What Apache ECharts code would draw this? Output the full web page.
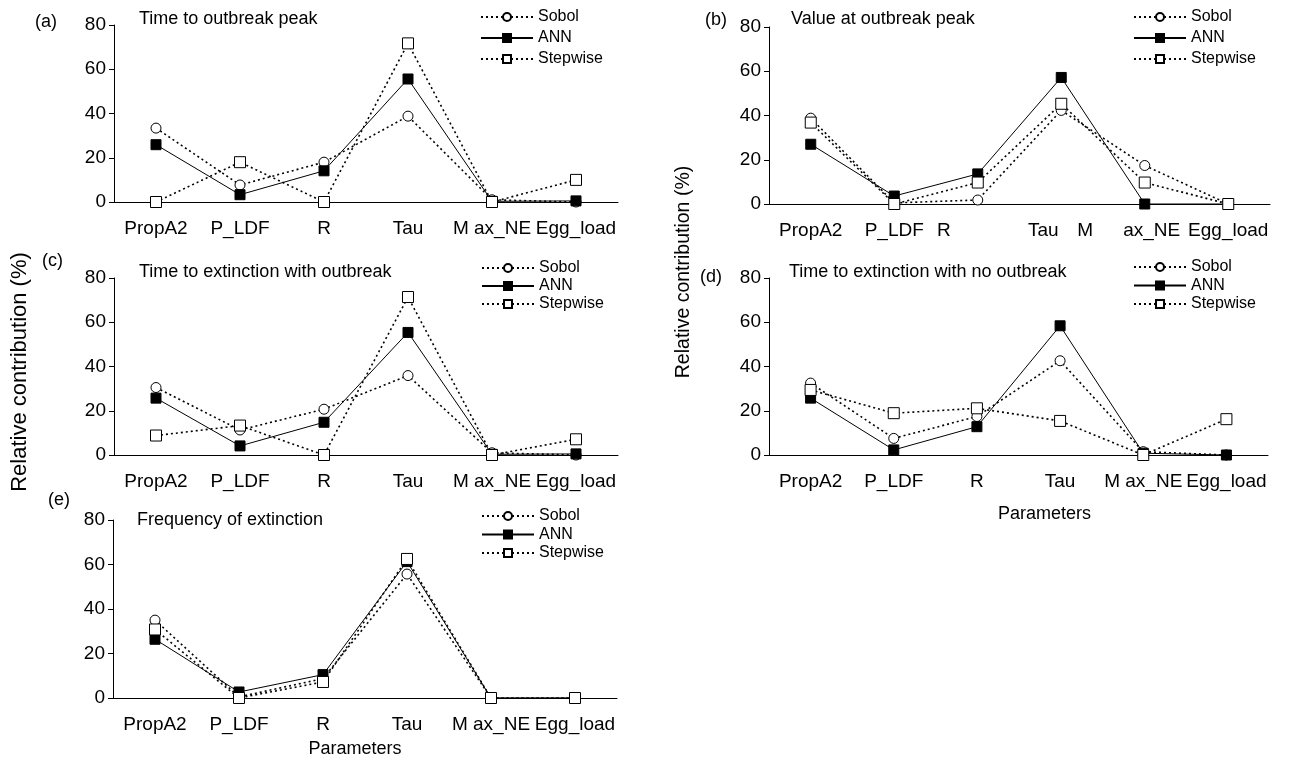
<!doctype html>
<html>
<head>
<meta charset="UTF-8">
<title>Relative contribution</title>
<script src="https://cdn.jsdelivr.net/npm/echarts@6/dist/echarts.min.js"></script>
<style>
html, body { margin: 0; padding: 0; background: #fff; }
#chart { width: 1305px; height: 763px; }
</style>
</head>
<body>
<div id="chart"></div>
<script>
// parameters on the x axis
var categories = ['PropA2', 'P_LDF', 'R', 'Tau', 'M ax_NE', 'Egg_load'];
var seriesNames = ['Sobol', 'ANN', 'Stepwise'];
var yTicks = [0, 20, 40, 60, 80];
var titles = ['Time to outbreak peak', 'Value at outbreak peak', 'Time to extinction with outbreak',
	'Time to extinction with no outbreak', 'Frequency of extinction'];
var tags = ['(a)', '(b)', '(c)', '(d)', '(e)'];
var yName = 'Relative contribution (%)';
var xName = 'Parameters';

// (a) time to outbreak peak
var sobolA = [33.4, 7.7, 18, 38.8, 1, 0];
var annA = [25.9, 3.3, 14.1, 55.6, 0.3, 0.5];
var stepA = [0, 18, 0, 71.7, 0, 10];
// (b) value at outbreak peak
var sobolB = [38.8, 0.5, 1.8, 42.3, 17.4, 0];
var annB = [27, 3.6, 13.6, 57.2, 0, 0];
var stepB = [36.8, 0, 9.7, 45.3, 9.7, 0];
// (c) time to extinction with outbreak
var sobolC = [30.5, 11.3, 20.7, 35.9, 1, 0];
var annC = [25.7, 4.1, 14.8, 55.4, 0.3, 0.5];
var stepC = [8.8, 13.3, 0, 71.4, 0, 7.1];
// (d) time to extinction with no outbreak
var sobolD = [32.5, 7.5, 17.4, 42.6, 1.5, 0];
var annD = [25.7, 2.3, 12.8, 58.4, 0.8, 0];
var stepD = [29.4, 18.9, 21.1, 15.4, 0, 16.2];
// (e) frequency of extinction
var sobolE = [35, 0.5, 8.7, 55.7, 0, 0];
var annE = [26.4, 2.7, 10.5, 61.3, 0, 0];
var stepE = [30.8, 0, 7.2, 62.5, 0, 0];

var FONT = 'Liberation Sans, Arial, sans-serif';
var grids = [
	{left: 114, top: 25, width: 504, height: 177},
	{left: 769, top: 27, width: 501, height: 177},
	{left: 114, top: 278, width: 504, height: 177},
	{left: 769, top: 278, width: 499, height: 177},
	{left: 113, top: 520, width: 504, height: 178}
];
var titlePos = [[139, 10], [791, 10], [139, 263], [789, 263], [137, 511]];
// left, top, gap between rows
var legendPos = [[480, 9, 5], [1133, 9, 5], [481, 260, 2], [1133, 259, 2.5], [481, 508, 2.5]];
var tagPos = [[35, 22], [705, 20], [42, 261], [700, 277], [48, 500]];
var allData = [[sobolA, annA, stepA], [sobolB, annB, stepB], [sobolC, annC, stepC],
	[sobolD, annD, stepD], [sobolE, annE, stepE]];

// panel (b) has its labels pushed about in the original
function bLabel(v, i) {
	if (i == 2) return '{r|' + v + '}';
	if (i == 3) return '{t|' + v + '}';
	if (i == 4) {
		var p = v.split(' ');
		return '{n|' + p[0] + '}{gap| }{m|' + p[1] + '}';
	}
	return '{n|' + v + '}';
}
var lbl = {fontSize: 19, fontFamily: FONT, color: '#000'};
var bRich = {
	n: lbl,
	r: Object.assign({padding: [0, 68, 0, 0]}, lbl),
	t: Object.assign({padding: [0, 36, 0, 0]}, lbl),
	gap: Object.assign({width: 30}, lbl),
	m: Object.assign({padding: [0, 32, 0, 0]}, lbl)
};

var styles = [
	{symbol: 'circle', symbolSize: 10, fill: '#fff', line: [2, 3], width: 1.6},
	{symbol: 'rect', symbolSize: 10, fill: '#000', line: 'solid', width: 1},
	{symbol: 'rect', symbolSize: 11, fill: '#fff', line: [2, 3], width: 1.6}
];

var option = {
	animation: false,
	backgroundColor: '#fff',
	grid: grids,
	title: [], legend: [], xAxis: [], yAxis: [], series: [],
	graphic: [
		{type: 'text', x: 20, y: 372, rotation: Math.PI / 2,
			style: {text: yName, fontSize: 22, fontFamily: FONT, fill: '#000', align: 'center', verticalAlign: 'middle'}},
		{type: 'text', x: 684, y: 272, rotation: Math.PI / 2,
			style: {text: yName, fontSize: 19.5, fontFamily: FONT, fill: '#000', align: 'center', verticalAlign: 'middle'}}
	]
};

for (var i = 0; i < 5; i++) {
	option.title.push({
		text: titles[i], left: titlePos[i][0], top: titlePos[i][1], padding: 0,
		textStyle: {fontSize: 18, fontWeight: 'normal', fontFamily: FONT, color: '#000'}
	});
	option.legend.push({
		data: seriesNames, orient: 'vertical', left: legendPos[i][0], top: legendPos[i][1],
		padding: 0, itemWidth: 52, itemHeight: 10, itemGap: legendPos[i][2],
		textStyle: {fontSize: 16, fontFamily: FONT, color: '#000', lineHeight: 16},
		selectedMode: false
	});
	option.graphic.push({
		type: 'text', x: tagPos[i][0], y: tagPos[i][1],
		style: {text: tags[i], fontSize: 18, fontFamily: FONT, fill: '#000', verticalAlign: 'middle'}
	});
	var xa = {
		type: 'category', gridIndex: i, data: categories, boundaryGap: true,
		axisLine: {lineStyle: {color: '#000', width: 1}},
		axisTick: {inside: true, length: 6, interval: 0, lineStyle: {color: '#000'}},
		axisLabel: {interval: 0, margin: 17, fontSize: 19, fontFamily: FONT, color: '#000'}
	};
	if (i == 1) {
		xa.axisLabel.formatter = bLabel;
		xa.axisLabel.rich = bRich;
	}
	if (i == 3 || i == 4) {
		xa.name = xName;
		xa.nameLocation = 'middle';
		xa.nameGap = i == 3 ? 50 : 42;
		xa.nameTextStyle = {fontSize: 18, fontFamily: FONT, color: '#000',
			padding: i == 3 ? [0, 0, 0, 52] : [0, 20, 0, 0]};
	}
	option.xAxis.push(xa);
	option.yAxis.push({
		type: 'value', gridIndex: i, min: yTicks[0], max: yTicks[yTicks.length - 1], interval: yTicks[1] - yTicks[0],
		splitLine: {show: false},
		axisLine: {show: true, lineStyle: {color: '#000', width: 1}},
		axisTick: {show: true, length: 5, lineStyle: {color: '#000'}},
		axisLabel: {margin: 8, fontSize: 19, fontFamily: FONT, color: '#000'}
	});
	for (var k = 0; k < 3; k++) {
		var s = styles[k];
		option.series.push({
			name: seriesNames[k], type: 'line', xAxisIndex: i, yAxisIndex: i,
			data: allData[i][k], symbol: s.symbol, symbolSize: s.symbolSize, showSymbol: true,
			lineStyle: {color: '#000', width: s.width, type: s.line},
			itemStyle: {color: s.fill, borderColor: '#000', borderWidth: 1},
			emphasis: {disabled: true},
			z: 2 + k
		});
	}
}

var myChart = echarts.init(document.getElementById('chart'));
myChart.setOption(option);
</script>
</body>
</html>
